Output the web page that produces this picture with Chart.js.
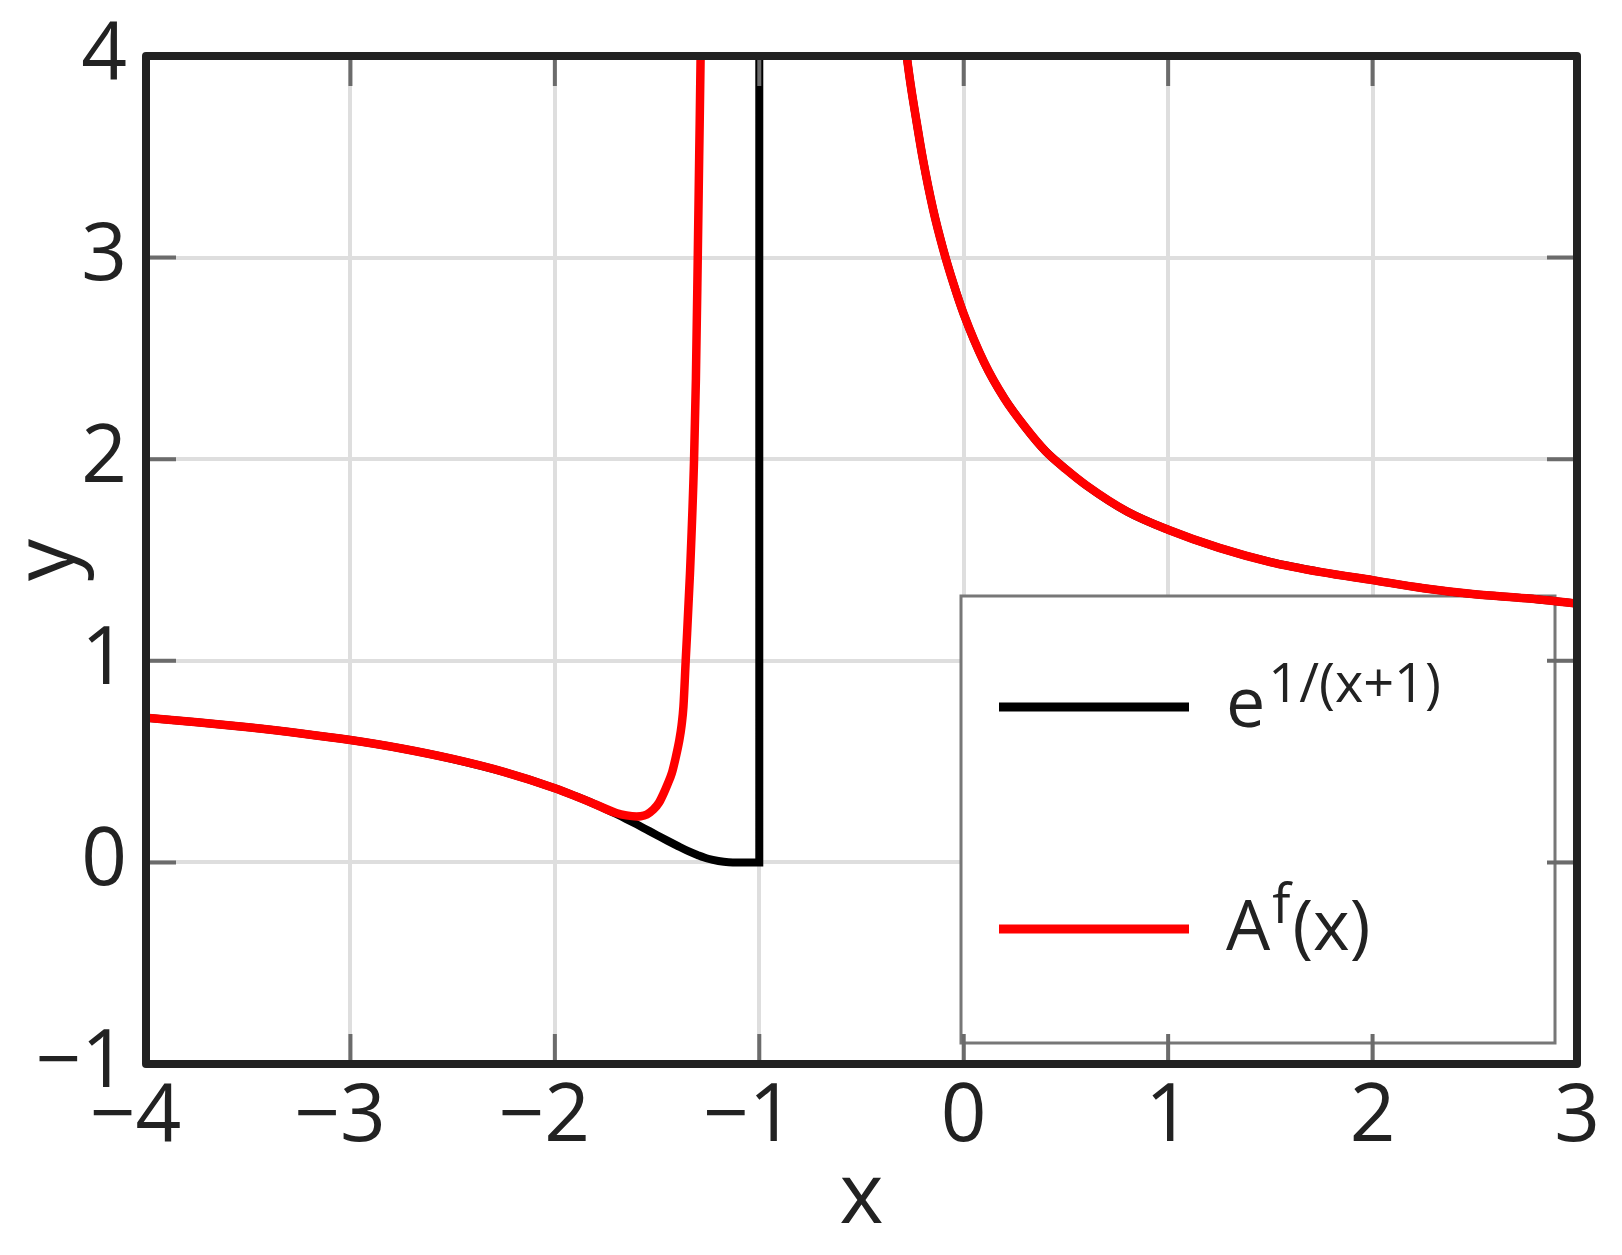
<!DOCTYPE html>
<html>
<head>
<meta charset="utf-8">
<script src="https://cdn.jsdelivr.net/npm/chart.js@4.4.1/dist/chart.umd.min.js"></script>
<style>
  html, body { margin: 0; padding: 0; background: #fff; }
  #wrap { width: 1622px; height: 1255px; }
</style>
</head>
<body>
<div id="wrap"><canvas id="chart" width="1622" height="1255"></canvas></div>
<script>
// values (null = break in the curve)
const blackX = [-4, -3.75, -3.5, -3.25, -3, -2.75, -2.5, -2.25, -2, -1.9, -1.8, -1.7, -1.65, -1.6, -1.55, -1.5, -1.45, -1.4, -1.35, -1.3, -1.25, -1.2, -1.15, -1.1, -1.0, -1.0,
    -0.99,
    -0.32, -0.28, -0.26, -0.23, -0.2, -0.15, -0.1, -0.05, 0, 0.1, 0.2, 0.3, 0.4, 0.5, 0.6, 0.8, 1.0, 1.25, 1.5, 1.75, 2.0, 2.25, 2.5, 2.75, 3.0];
const blackY = [0.717, 0.695, 0.670, 0.641, 0.607, 0.565, 0.513, 0.449, 0.368, 0.329, 0.287, 0.240, 0.215, 0.189, 0.162, 0.135, 0.108, 0.082, 0.057, 0.036, 0.018, 0.007, 0.001, 0, 0, 6,
    null,
    4.35, 4.01, 3.86, 3.67, 3.49, 3.24, 3.04, 2.87, 2.72, 2.48, 2.30, 2.16, 2.04, 1.95, 1.87, 1.74, 1.65, 1.56, 1.49, 1.44, 1.40, 1.36, 1.33, 1.31, 1.284];

const redX = [-4, -3.75, -3.5, -3.25, -3, -2.75, -2.5, -2.25, -2, -1.9, -1.8, -1.7, -1.65, -1.6, -1.58, -1.55, -1.518, -1.49, -1.469, -1.45, -1.428, -1.41, -1.391, -1.38, -1.371, -1.36, -1.339, -1.319, -1.31, -1.301, -1.294, -1.287, -1.281,
    -1.0,
    -0.32, -0.28, -0.26, -0.23, -0.2, -0.15, -0.1, -0.05, 0, 0.1, 0.2, 0.3, 0.4, 0.5, 0.6, 0.8, 1.0, 1.25, 1.5, 1.75, 2.0, 2.25, 2.5, 2.75, 3.0];
const redY = [0.717, 0.695, 0.670, 0.641, 0.607, 0.565, 0.513, 0.449, 0.368, 0.329, 0.287, 0.245, 0.233, 0.228, 0.229, 0.238, 0.262, 0.297, 0.34, 0.385, 0.442, 0.515, 0.607, 0.68, 0.773, 1.0, 1.434, 2.0, 2.4, 3.0, 3.5, 4.0, 4.6,
    null,
    4.35, 4.01, 3.86, 3.67, 3.49, 3.24, 3.04, 2.87, 2.72, 2.48, 2.30, 2.16, 2.04, 1.95, 1.87, 1.74, 1.65, 1.56, 1.49, 1.44, 1.40, 1.36, 1.33, 1.31, 1.284];

const xTicks = [-4, -3, -2, -1, 0, 1, 2, 3];
const xTickLabels = ['\u22124\u2008', '\u22123\u2008', '\u22122\u2008', '\u22121\u2008', '0', '1', '2', '3'];
const yTicks = [-1, 0, 1, 2, 3, 4];
const yTickLabels = ['\u22121', '0', '1', '2', '3', '4'];

const toPoints = (xs, ys) => xs.map((x, i) => ({ x: x, y: ys[i] }));

const FONT = '"Open Sans", "DejaVu Sans", sans-serif';

// legend box with superscripted labels, drawn under the curves
const legendBox = {
    id: 'legendBox',
    beforeDatasetsDraw(chart) {
        const ctx = chart.ctx;
        ctx.save();
        ctx.fillStyle = '#fff';
        ctx.fillRect(961, 596, 594, 447);
        ctx.strokeStyle = '#777';
        ctx.lineWidth = 3;
        ctx.strokeRect(961, 596, 594, 447);

        ctx.lineWidth = 9;
        ctx.lineCap = 'butt';
        ctx.strokeStyle = '#000';
        ctx.beginPath(); ctx.moveTo(999, 707); ctx.lineTo(1189, 707); ctx.stroke();
        ctx.strokeStyle = '#ff0000';
        ctx.beginPath(); ctx.moveTo(999, 929); ctx.lineTo(1189, 929); ctx.stroke();

        ctx.fillStyle = '#222';
        ctx.textBaseline = 'alphabetic';
        ctx.textAlign = 'left';
        let x = 1226;
        ctx.font = '70px ' + FONT;
        ctx.fillText('e', x, 727);
        x += ctx.measureText('e').width + 3;
        ctx.font = '54px ' + FONT;
        ctx.fillText('1/(x+1)', x, 702);

        x = 1226;
        ctx.font = '70px ' + FONT;
        ctx.fillText('A', x, 950);
        x += ctx.measureText('A').width + 2;
        ctx.font = '54px ' + FONT;
        ctx.fillText('f', x, 923);
        x += ctx.measureText('f').width + 2;
        ctx.font = '70px ' + FONT;
        ctx.fillText('(x)', x, 950);
        ctx.restore();
    }
};

// inner tick marks on all four sides and the dark frame
const frame = {
    id: 'frame',
    afterDatasetsDraw(chart) {
        const ctx = chart.ctx;
        const a = chart.chartArea;
        const xs = chart.scales.x, ys = chart.scales.y;
        const len = 30;
        ctx.save();
        ctx.strokeStyle = '#6b6b6b';
        ctx.lineWidth = 4;
        ctx.beginPath();
        xTicks.forEach(v => {
            const px = xs.getPixelForValue(v);
            ctx.moveTo(px, a.bottom); ctx.lineTo(px, a.bottom - len);
            ctx.moveTo(px, a.top); ctx.lineTo(px, a.top + len);
        });
        yTicks.forEach(v => {
            const py = ys.getPixelForValue(v);
            ctx.moveTo(a.left, py); ctx.lineTo(a.left + len, py);
            ctx.moveTo(a.right, py); ctx.lineTo(a.right - len, py);
        });
        ctx.stroke();
        ctx.strokeStyle = '#222';
        ctx.lineWidth = 8;
        ctx.lineJoin = 'round';
        ctx.strokeRect(a.left, a.top, a.right - a.left, a.bottom - a.top);
        ctx.restore();
    }
};

new Chart(document.getElementById('chart').getContext('2d'), {
    type: 'line',
    data: {
        datasets: [
            {
                label: 'A^f(x)',
                data: toPoints(redX, redY),
                borderColor: '#ff0000',
                borderWidth: 8.5,
                pointRadius: 0,
                cubicInterpolationMode: 'monotone',
                spanGaps: false,
                order: 0
            },
            {
                label: 'e^{1/(x+1)}',
                data: toPoints(blackX, blackY),
                borderColor: '#000000',
                borderWidth: 8,
                pointRadius: 0,
                cubicInterpolationMode: 'monotone',
                spanGaps: false,
                order: 1
            }
        ]
    },
    options: {
        responsive: false,
        animation: false,
        events: [],
        layout: { padding: { top: 56, right: 45, left: 0, bottom: 0 } },
        plugins: {
            legend: { display: false },
            tooltip: { enabled: false }
        },
        scales: {
            x: {
                type: 'linear',
                min: -4,
                max: 3,
                afterBuildTicks: scale => { scale.ticks = xTicks.map(v => ({ value: v })); },
                afterFit: scale => { scale.height = 191; scale.paddingLeft = 0; scale.paddingRight = 0; },
                grid: { color: '#dedede', lineWidth: 4, drawTicks: false },
                border: { display: false },
                ticks: {
                    padding: 6,
                    color: '#222',
                    font: { family: FONT, size: 80 },
                    maxRotation: 0,
                    callback: v => xTickLabels[xTicks.indexOf(v)]
                },
                title: {
                    display: true,
                    text: 'x',
                    color: '#222',
                    font: { family: FONT, size: 84 },
                    padding: { top: 0, bottom: 6 }
                }
            },
            y: {
                type: 'linear',
                min: -1,
                max: 4,
                afterBuildTicks: scale => { scale.ticks = yTicks.map(v => ({ value: v })); },
                afterFit: scale => { scale.width = 146; scale.paddingTop = 0; scale.paddingBottom = 0; },
                grid: { color: '#dedede', lineWidth: 4, drawTicks: false },
                border: { display: false },
                ticks: {
                    padding: 19,
                    color: '#222',
                    font: { family: FONT, size: 80 },
                    callback: v => yTickLabels[yTicks.indexOf(v)]
                },
                title: {
                    display: true,
                    text: 'y',
                    color: '#222',
                    font: { family: FONT, size: 84 },
                    padding: { top: 0, bottom: 0 }
                }
            }
        }
    },
    plugins: [legendBox, frame]
});
</script>
</body>
</html>
